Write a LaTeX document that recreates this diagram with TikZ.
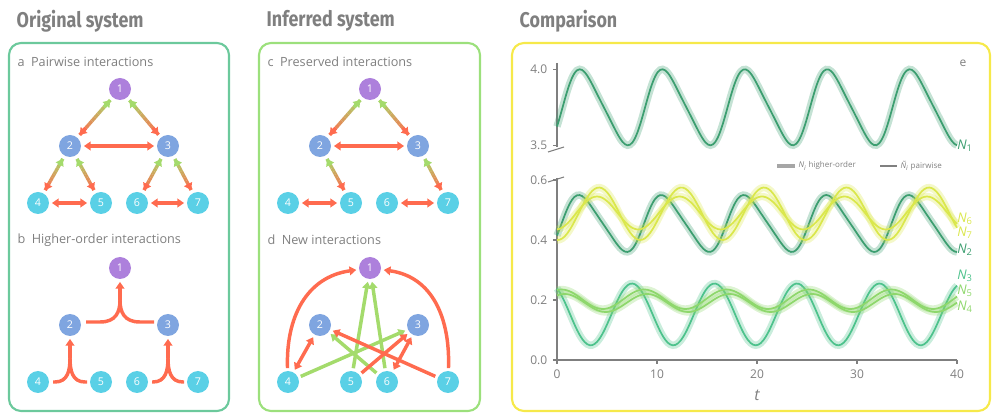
\documentclass[tikz,border=0pt]{standalone}
\usepackage{fontspec}
\setmainfont{Open Sans}
\newfontfamily\titlefont{Fira Sans}
\usepackage{tikz}
\usetikzlibrary{arrows.meta, calc}

\definecolor{pred}{HTML}{FF6B4F}
\definecolor{pgrn}{HTML}{A4DB6C}
\definecolor{purp}{HTML}{AD80DC}
\definecolor{blu}{HTML}{7FA5E0}
\definecolor{cya}{HTML}{5AD0E6}
\definecolor{txtgray}{HTML}{7F7F7F}
\definecolor{boxa}{HTML}{6CC99C}
\definecolor{boxc}{HTML}{9CE07C}
\definecolor{boxe}{HTML}{F6E94A}
\definecolor{ndark}{HTML}{3C9E70}
\definecolor{nmid}{HTML}{4DC28C}
\definecolor{nlight}{HTML}{8ED76C}
\definecolor{nyel}{HTML}{DAE74C}

\tikzset{
  vert/.style={circle, minimum size=16.5pt, inner sep=0pt, text=white, font=\fontsize{8}{8}\selectfont},
  top/.style={vert, fill=purp},
  mid/.style={vert, fill=blu},
  low/.style={vert, fill=cya},
  edge/.style={line width=2.6pt},
  tip/.style={-{Triangle[length=5pt,width=6.5pt]}},
  both/.style={{Triangle[length=5pt,width=6.5pt]}-{Triangle[length=5pt,width=6.5pt]}},
  redge/.style={edge, pred, shorten >=2pt, shorten <=2pt},
  gedge/.style={edge, pgrn, shorten >=2pt, shorten <=2pt},
  panel/.style={rounded corners=9pt, line width=1.6pt},
  sublabel/.style={anchor=west, text=txtgray, font=\fontsize{9.5}{10}\selectfont},
  heading/.style={anchor=west, text=txtgray, font=\titlefont\bfseries\fontsize{16}{16}\selectfont},
  ticklab/.style={text=txtgray, font=\fontsize{9}{9}\selectfont},
  leglab/.style={anchor=west, text=txtgray, inner sep=1pt, font=\fontsize{6}{6}\selectfont},
  halo/.style={line width=5.5pt, opacity=0.3},
  curve/.style={line width=1.3pt},
}

% double arrow coloured from green (first node) to red (second node)
\newcommand\gradedge[2]{%
  \coordinate (gs) at ($(#1)!11pt!(#2)$);
  \coordinate (ge) at ($(#2)!11pt!(#1)$);
  \foreach \k in {1,...,10}{
    \pgfmathtruncatemacro\q{100-\k*10+5}
    \draw[edge, draw=pgrn!\q!pred] ($(gs)!{(\k-1)/10}!(ge)$) -- ($(gs)!{\k/10}!(ge)$);
  }
  \draw[edge, pgrn, tip] ($(gs)!0.2!(ge)$) -- (gs);
  \draw[edge, pred, tip] ($(gs)!0.8!(ge)$) -- (ge);
}

\begin{document}
\begin{tikzpicture}[x=0.75pt, y=-0.75pt]
\useasboundingbox (0,0) rectangle (996,416);

% headings and panels
\node[heading] at (12,21) {\scalebox{0.84}[1]{Original system}};
\node[heading] at (262,21) {\scalebox{0.84}[1]{Inferred system}};
\node[heading] at (515,21) {\scalebox{0.84}[1]{Comparison}};
\draw[panel, boxa] (9,43) rectangle (229,411);
\draw[panel, boxc] (259,43) rectangle (480,411);
\draw[panel, boxe] (512,43) rectangle (990,411);

\node[sublabel] at (13,62) {a\enspace Pairwise interactions};
\node[sublabel] at (13,240) {b\enspace Higher-order interactions};
\node[sublabel] at (263,62) {c\enspace Preserved interactions};
\node[sublabel] at (263,240) {d\enspace New interactions};

% panel a
\node[top] (a1) at (120,89) {1};
\node[mid] (a2) at (70,146) {2};
\node[mid] (a3) at (168,146) {3};
\node[low] (a4) at (38,203) {4};
\node[low] (a5) at (101,203) {5};
\node[low] (a6) at (137,203) {6};
\node[low] (a7) at (198,203) {7};
\gradedge{a1}{a2} \gradedge{a1}{a3}
\gradedge{a2}{a4} \gradedge{a2}{a5}
\gradedge{a3}{a6} \gradedge{a3}{a7}
\draw[redge, both] (a2) -- (a3);
\draw[redge, both] (a4) -- (a5);
\draw[redge, both] (a6) -- (a7);

% panel b
\node[top] (b1) at (120,268) {1};
\node[mid] (b2) at (70,325) {2};
\node[mid] (b3) at (168,325) {3};
\node[low] (b4) at (38,382) {4};
\node[low] (b5) at (101,382) {5};
\node[low] (b6) at (137,382) {6};
\node[low] (b7) at (198,382) {7};
\coordinate (bj1) at (120,300);
\coordinate (bj2) at (70,358);
\coordinate (bj3) at (168,358);
\draw[edge, pred] (86,322) -- (100,322) .. controls +(16,0) and +(0,12) .. (bj1);
\draw[edge, pred] (154,322) -- (140,322) .. controls +(-16,0) and +(0,12) .. (bj1);
\draw[edge, pred, tip, shorten >=2pt] (bj1) -- (b1);
\draw[edge, pred] (53,382) -- (55,382) .. controls +(13,0) and +(0,12) .. (bj2);
\draw[edge, pred] (87,382) -- (85,382) .. controls +(-13,0) and +(0,12) .. (bj2);
\draw[edge, pred, tip, shorten >=2pt] (bj2) -- (b2);
\draw[edge, pred] (152,382) -- (153,382) .. controls +(13,0) and +(0,12) .. (bj3);
\draw[edge, pred] (184,382) -- (183,382) .. controls +(-13,0) and +(0,12) .. (bj3);
\draw[edge, pred, tip, shorten >=2pt] (bj3) -- (b3);

% panel c
\node[top] (c1) at (370,89) {1};
\node[mid] (c2) at (320,146) {2};
\node[mid] (c3) at (418,146) {3};
\node[low] (c4) at (288,203) {4};
\node[low] (c5) at (351,203) {5};
\node[low] (c6) at (387,203) {6};
\node[low] (c7) at (448,203) {7};
\gradedge{c1}{c2} \gradedge{c1}{c3}
\gradedge{c2}{c5} \gradedge{c3}{c7}
\draw[redge, both] (c2) -- (c3);
\draw[redge, both] (c4) -- (c5);
\draw[redge, both] (c6) -- (c7);

% panel d
\node[top] (d1) at (370,268) {1};
\node[mid] (d2) at (320,325) {2};
\node[mid] (d3) at (418,325) {3};
\node[low] (d4) at (288,382) {4};
\node[low] (d5) at (351,382) {5};
\node[low] (d6) at (387,382) {6};
\node[low] (d7) at (448,382) {7};
\draw[redge, tip] (d4) to[out=92, in=188, looseness=1.1] (d1);
\draw[redge, tip] (d7) to[out=88, in=-8, looseness=1.1] (d1);
\draw[gedge, tip] (d5) -- (d1);
\draw[gedge, tip] (d6) -- (d1);
\draw[gedge, tip] (d4) -- (d3);
\draw[gedge, tip] (d6) -- (d2);
\draw[redge, tip] (d7) -- (d2);
\draw[redge, tip] (d5) -- (d3);
\draw[redge, both] (d4) -- (d2);
\draw[redge, both] (d6) -- (d3);

% panel e: axes
\draw[txtgray, line width=0.8pt] (557,63) -- (557,147);
\draw[txtgray, line width=0.8pt] (548,152) -- (564,147);
\draw[txtgray, line width=0.8pt] (548,182) -- (564,177);
\draw[txtgray, line width=0.8pt] (557,178) -- (557,360) -- (957,360);
\foreach \v/\yy in {4.0/69.3, 3.5/145.3, 0.6/180, 0.4/240, 0.2/300, 0.0/360}{
  \draw[txtgray, line width=0.8pt] (553,\yy) -- (557,\yy);
  \node[ticklab, anchor=east] at (552,\yy) {\v};
}
\foreach \t in {0,10,20,30,40}{
  \draw[txtgray, line width=0.8pt] (557+10*\t,360) -- (557+10*\t,364);
  \node[ticklab, anchor=north] at (557+10*\t,365) {\t};
}
\node[text=txtgray, font=\fontsize{12}{12}\selectfont\itshape] at (757,395) {t};
\node[ticklab] at (963,63) {e};

% legend
\draw[gray, line width=2.4pt, opacity=0.7] (777,166) -- (795,166);
\node[leglab] at (797,166) {\textit{N\textsubscript{i}} higher-order};
\draw[gray, line width=0.8pt] (880,166) -- (897,166);
\node[leglab] at (899,166) {\textit{Ñ\textsubscript{i}} pairwise};

% curves
\foreach \col/\expr in {
  ndark/{69.3+(0.25-0.25*(sin(43.64*\x-24.4)+0.15*sin(2*(43.64*\x-24.4)))/1.04)*152},
  ndark/{360-300*(0.455+0.095*(sin(43.64*\x-20)+0.15*sin(2*(43.64*\x-20)))/1.04)},
  nyel/{360-300*(0.4875+0.0875*cos(43.64*(\x-4.2)))},
  nyel/{360-300*(0.49+0.055*cos(43.64*(\x-4.0)))},
  nmid/{360-300*(0.152+0.103*cos(43.64*(\x-7.5)))},
  nlight/{360-300*(0.2025+0.0325*cos(43.64*(\x-8.7)))},
  nlight/{360-300*(0.19+0.03*cos(43.64*(\x-9.0)))}}{
  \draw[halo, \col] plot[domain=0:40, samples=160, smooth] ({557+10*\x}, {\expr});
  \draw[curve, \col] plot[domain=0:40, samples=160, smooth] ({557+10*\x}, {\expr});
}
\foreach \lab/\col/\yy in {1/ndark/146, 6/nyel/219, 7/nyel/233, 2/ndark/250, 3/nmid/276, 5/nlight/291, 4/nlight/307}{
  \node[anchor=west, text=\col, inner sep=0pt, font=\fontsize{10}{10}\selectfont] at (957,\yy) {\textit{N}\textsubscript{\lab}};
}
\end{tikzpicture}
\end{document}
